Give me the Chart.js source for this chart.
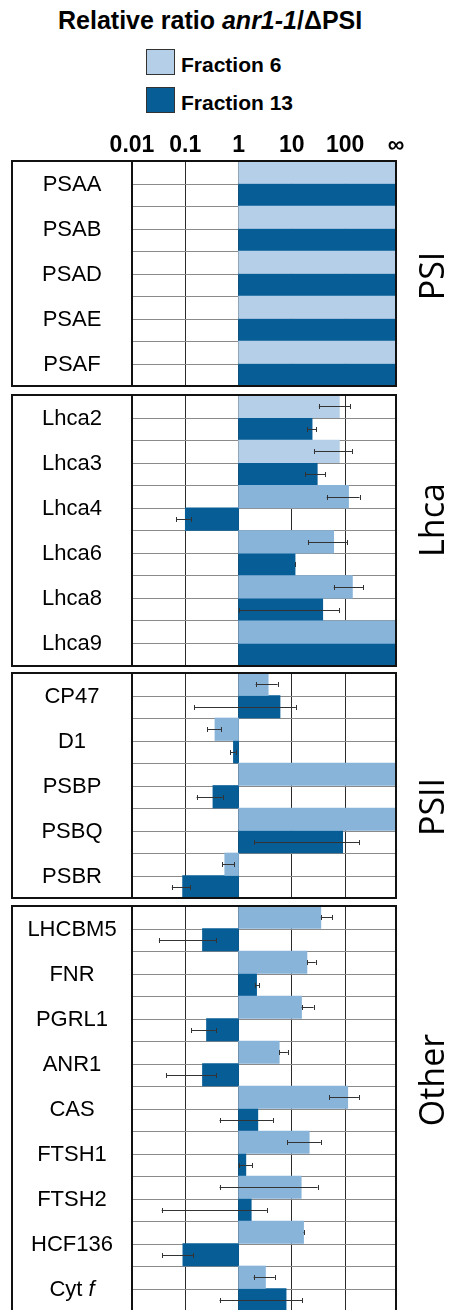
<!DOCTYPE html>
<html><head><meta charset="utf-8">
<script src="https://cdn.jsdelivr.net/npm/chart.js@4.4.1/dist/chart.umd.min.js"></script>
<style>
html,body{margin:0;padding:0;background:#fff;overflow:hidden;}
#wrap{position:relative;width:451px;height:1310px;overflow:hidden;font-family:"Liberation Sans",Arial,sans-serif;color:#000;}
.t{position:absolute;white-space:nowrap;}
canvas{position:absolute;left:0;}
.box{position:absolute;left:146px;width:27px;height:24px;border:1px solid #333;}
</style></head><body>
<div id="wrap"></div>
<script>
// ---------------- data ----------------
const INF = 900; // "∞" is drawn at the right edge of the log axis
const seriesNames = ['Fraction 6', 'Fraction 13'];
const tickValues = [0.01, 0.1, 1, 10, 100, INF];
const tickLabels = ['0.01', '0.1', '1', '10', '100', '∞'];
const groupNames = ['PSI', 'Lhca', 'PSII', 'Other'];

const psiProteins = ['PSAA', 'PSAB', 'PSAD', 'PSAE', 'PSAF'];
const psiFrac6 = [INF, INF, INF, INF, INF];
const psiFrac6Lo = [null, null, null, null, null];
const psiFrac6Hi = [null, null, null, null, null];
const psiFrac13 = [INF, INF, INF, INF, INF];
const psiFrac13Lo = [null, null, null, null, null];
const psiFrac13Hi = [null, null, null, null, null];

const lhcaProteins = ['Lhca2', 'Lhca3', 'Lhca4', 'Lhca6', 'Lhca8', 'Lhca9'];
const lhcaFrac6 = [78, 78, 116, 61, 137, INF];
const lhcaFrac6Lo = [32, 26, 45, 20, 61, null];
const lhcaFrac6Hi = [124, 134, 186, 108, 216, null];
const lhcaFrac13 = [24, 30, 0.1, 11.5, 38, INF];
const lhcaFrac13Lo = [19.5, 17.6, 0.068, 11.3, 1.0, null];
const lhcaFrac13Hi = [28.4, 42, 0.126, 11.7, 77, null];

const psiiProteins = ['CP47', 'D1', 'PSBP', 'PSBQ', 'PSBR'];
const psiiFrac6 = [3.6, 0.36, INF, INF, 0.55];
const psiiFrac6Lo = [2.09, 0.26, null, null, 0.49];
const psiiFrac6Hi = [5.4, 0.47, null, null, 0.82];
const psiiFrac13 = [6.0, 0.80, 0.33, 90, 0.089];
const psiiFrac13Lo = [0.148, 0.69, 0.163, 1.98, 0.056];
const psiiFrac13Hi = [11.9, 0.88, 0.50, 184, 0.123];

const otherProteins = ['LHCBM5', 'FNR', 'PGRL1', 'ANR1', 'CAS', 'FTSH1', 'FTSH2', 'HCF136', 'Cyt f'];
const otherFrac6 = [35, 19.2, 15.2, 5.8, 112, 21.2, 15, 16.6, 3.2];
const otherFrac6Lo = [35, 19.2, 15.2, 5.8, 50.6, 8.2, 0.44, 16.6, 1.92];
const otherFrac6Hi = [57.6, 28, 25.6, 8.4, 181, 35, 30.5, 17.0, 4.8];
const otherFrac13 = [0.21, 2.18, 0.25, 0.21, 2.3, 1.37, 1.73, 0.09, 7.8];
const otherFrac13Lo = [0.032, 2.0, 0.13, 0.044, 0.44, 1.0, 0.036, 0.037, 0.44];
const otherFrac13Hi = [0.38, 2.46, 0.37, 0.38, 4.4, 1.81, 3.4, 0.14, 15.6];

const italicWords = ['f'];

// ---------------- style ----------------
const PALE = '#b4cfe7', MID = '#88b4da', DARK = '#075e96';
const LABEL_FONT = '22px "Liberation Sans", Arial, sans-serif';
const GROUP_FONT = '34px "Open Sans", "Noto Sans", sans-serif';
const BOX_LEFT = 12;

const wrap = document.getElementById('wrap');

// header: title + legend
const title = document.createElement('div');
title.className = 't';
title.style.cssText = 'left:58px;top:8px;font:bold 25px/25px "Liberation Sans",Arial,sans-serif;';
title.innerHTML = 'Relative ratio <i>anr1-1</i>/ΔPSI';
wrap.appendChild(title);
[[PALE, 49], [DARK, 87]].forEach(([col, top], i) => {
  const b = document.createElement('div');
  b.className = 'box';
  b.style.top = top + 'px';
  b.style.background = col;
  wrap.appendChild(b);
  const t = document.createElement('div');
  t.className = 't';
  t.style.cssText = `left:181px;top:${top + 5}px;font:bold 21px/21px "Liberation Sans",Arial,sans-serif;`;
  t.textContent = seriesNames[i];
  wrap.appendChild(t);
});

// ---------------- plugins ----------------
const panelPlugin = {
  id: 'panelDeco',
  beforeDatasetsDraw(chart) {
    const {ctx, chartArea: a} = chart;
    const ys = chart.scales.y;
    ctx.save();
    ctx.strokeStyle = '#8a8a8a';
    ctx.lineWidth = 1;
    ctx.beginPath();
    for (let i = 0; i < ys.getLabels().length; i++) {
      const y = Math.round(ys.getPixelForValue(i)) + 0.5;
      ctx.moveTo(a.left, y); ctx.lineTo(a.right, y);
    }
    ctx.stroke();
    ctx.restore();
  },
  afterDatasetsDraw(chart) {
    const {ctx} = chart;
    const xs = chart.scales.x;
    ctx.save();
    ctx.strokeStyle = '#333';
    ctx.lineWidth = 1;
    chart.data.datasets.forEach((ds, di) => {
      const meta = chart.getDatasetMeta(di);
      meta.data.forEach((bar, i) => {
        const lo = ds.errLo[i], hi = ds.errHi[i];
        if (lo == null || hi == null) return;
        const x1 = xs.getPixelForValue(lo), x2 = xs.getPixelForValue(hi);
        const y = Math.round(bar.y) + 0.5;
        ctx.beginPath();
        ctx.moveTo(x1, y); ctx.lineTo(x2, y);
        ctx.moveTo(Math.round(x1) + 0.5, y - 2.5); ctx.lineTo(Math.round(x1) + 0.5, y + 2.5);
        ctx.moveTo(Math.round(x2) + 0.5, y - 2.5); ctx.lineTo(Math.round(x2) + 0.5, y + 2.5);
        ctx.stroke();
      });
    });
    ctx.restore();
  },
  afterDraw(chart) {
    const {ctx, chartArea: a} = chart;
    const ys = chart.scales.y;
    const cfg = chart.options.plugins.panelDeco;
    ctx.save();
    // outer box and label divider
    ctx.strokeStyle = '#111';
    ctx.lineWidth = 2;
    ctx.strokeRect(BOX_LEFT, a.top, a.right - BOX_LEFT, a.bottom - a.top);
    ctx.beginPath();
    ctx.moveTo(a.left, a.top); ctx.lineTo(a.left, a.bottom);
    ctx.stroke();
    // category labels centred in the label box
    ctx.fillStyle = '#000';
    ctx.textBaseline = 'middle';
    const cx = (BOX_LEFT + a.left) / 2;
    ys.getLabels().forEach((name, i) => {
      const y = ys.getPixelForValue(i) + 1;
      const words = name.split(' ');
      const parts = words.map((w, k) => ({
        text: w + (k < words.length - 1 ? ' ' : ''),
        font: (italicWords.includes(w) ? 'italic ' : '') + LABEL_FONT
      }));
      let total = 0;
      parts.forEach(p => { ctx.font = p.font; p.w = ctx.measureText(p.text).width; total += p.w; });
      let x = cx - total / 2;
      ctx.textAlign = 'left';
      parts.forEach(p => { ctx.font = p.font; ctx.fillText(p.text, x, y); x += p.w; });
    });
    // rotated group name
    ctx.translate(434, cfg.groupY);
    ctx.rotate(-Math.PI / 2);
    ctx.font = GROUP_FONT;
    ctx.textAlign = 'center';
    ctx.textBaseline = 'middle';
    ctx.fillText(cfg.group, 0, 0);
    ctx.restore();
  }
};

function makePanel(p) {
  const cv = document.createElement('canvas');
  cv.width = 451; cv.height = p.h;
  cv.style.top = p.top + 'px';
  cv.style.width = '451px'; cv.style.height = p.h + 'px';
  wrap.appendChild(cv);
  const lightCols = p.names.map((_, i) => i < p.paleCount ? PALE : MID);
  new Chart(cv, {
    type: 'bar',
    data: {
      labels: p.names,
      datasets: [
        {label: seriesNames[0], data: p.f6.map(v => [1, v]), errLo: p.f6Lo, errHi: p.f6Hi,
         backgroundColor: lightCols, borderWidth: 0, barPercentage: 1, categoryPercentage: 1},
        {label: seriesNames[1], data: p.f13.map(v => [1, v]), errLo: p.f13Lo, errHi: p.f13Hi,
         backgroundColor: DARK, borderWidth: 0, barPercentage: 1, categoryPercentage: 1}
      ]
    },
    options: {
      indexAxis: 'y',
      responsive: false,
      animation: false,
      devicePixelRatio: 1,
      layout: {padding: {left: BOX_LEFT, right: 55, top: p.padTop, bottom: 4}},
      plugins: {
        legend: {display: false},
        tooltip: {enabled: false},
        panelDeco: {group: p.group, groupY: p.groupY - p.top}
      },
      scales: {
        x: {
          type: 'logarithmic',
          position: 'top',
          min: tickValues[0],
          max: tickValues[tickValues.length - 1],
          afterBuildTicks: s => { s.ticks = tickValues.map(v => ({value: v})); },
          afterFit: s => { s.height = p.axisH; },
          grid: {color: '#2a2a2a', lineWidth: 1, drawTicks: false},
          border: {display: false},
          ticks: {
            display: p.showTicks,
            autoSkip: false,
            maxRotation: 0,
            padding: 2,
            color: '#000',
            font: {family: '"Liberation Sans", Arial, sans-serif', size: 23, weight: 'bold'},
            callback: v => tickLabels[tickValues.indexOf(v)]
          }
        },
        y: {
          type: 'category',
          offset: true,
          afterFit: s => { s.width = 120; },
          grid: {color: '#8a8a8a', lineWidth: 1, drawTicks: false, offset: true},
          border: {display: false},
          ticks: {display: false}
        }
      }
    },
    plugins: [panelPlugin]
  });
}

makePanel({top: 110, h: 280, padTop: 0, axisH: 51, showTicks: true, group: groupNames[0], groupY: 276,
  names: psiProteins, paleCount: 5, f6: psiFrac6, f6Lo: psiFrac6Lo, f6Hi: psiFrac6Hi,
  f13: psiFrac13, f13Lo: psiFrac13Lo, f13Hi: psiFrac13Hi});
makePanel({top: 391, h: 279, padTop: 4, axisH: 0, showTicks: false, group: groupNames[1], groupY: 520,
  names: lhcaProteins, paleCount: 2, f6: lhcaFrac6, f6Lo: lhcaFrac6Lo, f6Hi: lhcaFrac6Hi,
  f13: lhcaFrac13, f13Lo: lhcaFrac13Lo, f13Hi: lhcaFrac13Hi});
makePanel({top: 669, h: 233, padTop: 4, axisH: 0, showTicks: false, group: groupNames[2], groupY: 807,
  names: psiiProteins, paleCount: 0, f6: psiiFrac6, f6Lo: psiiFrac6Lo, f6Hi: psiiFrac6Hi,
  f13: psiiFrac13, f13Lo: psiiFrac13Lo, f13Hi: psiiFrac13Hi});
makePanel({top: 902, h: 413, padTop: 4, axisH: 0, showTicks: false, group: groupNames[3], groupY: 1080,
  names: otherProteins, paleCount: 0, f6: otherFrac6, f6Lo: otherFrac6Lo, f6Hi: otherFrac6Hi,
  f13: otherFrac13, f13Lo: otherFrac13Lo, f13Hi: otherFrac13Hi});
</script>
</body></html>
